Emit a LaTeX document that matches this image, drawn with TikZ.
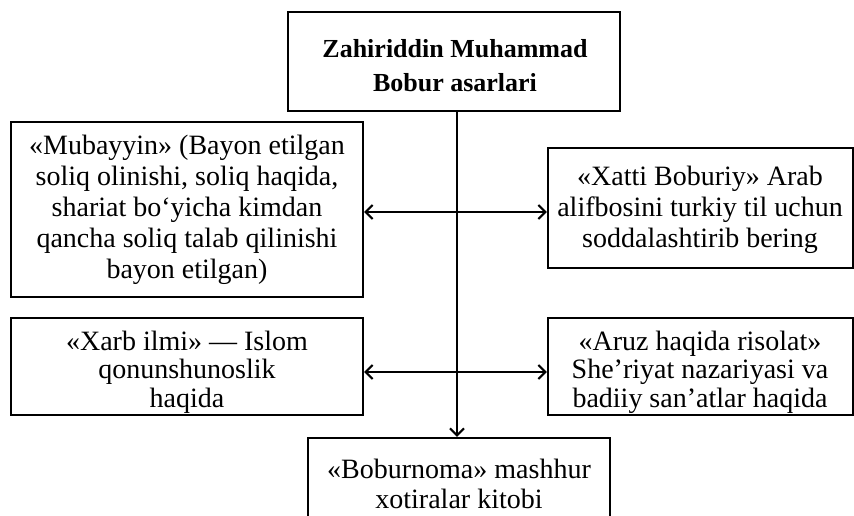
\documentclass[tikz,border=0pt]{standalone}
\usepackage{fontspec}
\setmainfont{Liberation Serif}
\usetikzlibrary{arrows.meta}
\begin{document}
\begin{tikzpicture}[x=1pt,y=-1pt,
  >={Straight Barb[length=7pt,width=14pt,line width=2pt]},
  box/.style={draw=black, line width=2.4pt, inner sep=0pt},
  txt/.style={align=center, inner sep=0pt, font=\fontsize{28}{31}\selectfont},
  link/.style={line width=2.4pt, <->},
  down/.style={line width=2.4pt, ->}]
\useasboundingbox[fill=white] (0,0) rectangle (854,516);
% boxes
\node[box, minimum width=332pt, minimum height=99pt] (top) at (454,61.5) {};
\node[box, minimum width=352pt, minimum height=175pt] (l1) at (187,209.5) {};
\node[box, minimum width=305pt, minimum height=120pt] (r1) at (700.5,208) {};
\node[box, minimum width=352pt, minimum height=97pt] (l2) at (187,366.5) {};
\node[box, minimum width=305pt, minimum height=97pt] (r2) at (700.5,366.5) {};
\node[box, minimum width=302pt, minimum height=100pt] (bot) at (459,488) {};
% texts
\node[txt, font=\bfseries\fontsize{26}{34}\selectfont] (topt) at (455,66)
  {Zahiriddin Muhammad\\Bobur asarlari};
\node[txt] (l1t) at (187,210)
  {«Mubayyin» (Bayon etilgan\\soliq olinishi, soliq haqida,\\shariat bo‘yicha kimdan\\qancha soliq talab qilinishi\\bayon etilgan)};
\node[txt] (r1t) at (700,210)
  {«Xatti Boburiy» Arab\\alifbosini turkiy til uchun\\soddalashtirib bering};
\node[txt, font=\fontsize{28}{28.5}\selectfont] (l2t) at (187,372)
  {«Xarb ilmi» — Islom\\qonunshunoslik\\haqida};
\node[txt, font=\fontsize{28}{28.5}\selectfont] (r2t) at (700,372)
  {«Aruz haqida risolat»\\She’riyat nazariyasi va\\badiiy san’atlar haqida};
\node[txt, font=\fontsize{28}{30}\selectfont] (bott) at (459,484)
  {«Boburnoma» mashhur\\xotiralar kitobi};
% connectors
\coordinate (v) at (457,0);
\coordinate (h1) at (0,212);
\coordinate (h2) at (0,372);
\draw[down] (top.south -| v) -- (bot.north -| v);
\draw[link] (l1.east |- h1) -- (r1.west |- h1);
\draw[link] (l2.east |- h2) -- (r2.west |- h2);
\end{tikzpicture}
\end{document}
